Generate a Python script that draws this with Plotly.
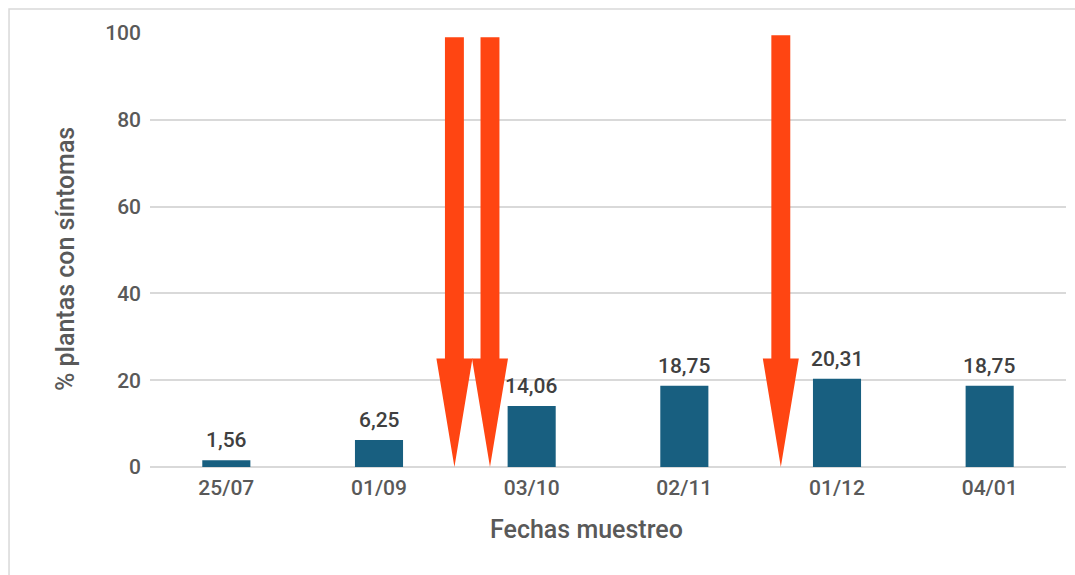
import plotly.graph_objects as go

# Sampling dates and % of plants with symptoms
fechas = ["25/07", "01/09", "03/10", "02/11", "01/12", "04/01"]
porcentaje = [1.56, 6.25, 14.06, 18.75, 20.31, 18.75]

# Treatment markers (downward arrows), positioned on the category scale
flecha_x = [1.494, 1.727, 3.632]
flecha_top = [99.0, 99.0, 99.5]

BAR_COLOR = "#185F80"
ARROW_COLOR = "#FF4512"
TEXT_COLOR = "#595959"
LABEL_COLOR = "#404040"
FONT = "Roboto"

pos = list(range(len(fechas)))

fig = go.Figure()
fig.add_trace(go.Bar(
    x=pos, y=porcentaje, width=0.315,
    marker=dict(color=BAR_COLOR, line=dict(width=0)),
    hoverinfo="skip",
))

# Value labels above each bar, with decimal comma
for xi, v in zip(pos, porcentaje):
    fig.add_annotation(
        x=xi, y=v, text=f"{v:.2f}".replace(".", ","), showarrow=False,
        xanchor="center", yanchor="bottom", yshift=6,
        font=dict(family=FONT, size=21, color=LABEL_COLOR, weight=500),
    )

# Arrow shapes: shaft half-width, head half-width and head height in axis units
shaft_hw = 0.062
head_hw = 0.118
head_h = 25.0
for xc, top in zip(flecha_x, flecha_top):
    xs = [xc - shaft_hw, xc + shaft_hw, xc + shaft_hw, xc + head_hw, xc,
          xc - head_hw, xc - shaft_hw, xc - shaft_hw]
    ys = [top, top, head_h, head_h, 0, head_h, head_h, top]
    fig.add_trace(go.Scatter(
        x=xs, y=ys, mode="lines", fill="toself", fillcolor=ARROW_COLOR,
        line=dict(width=0, color=ARROW_COLOR), hoverinfo="skip",
        showlegend=False,
    ))

# Axis titles
title_font = dict(family=FONT, size=25, color=TEXT_COLOR, weight=500)
fig.add_annotation(text="Fechas muestreo", xref="paper", yref="paper",
                   x=0.476, y=-0.1429, xanchor="center", yanchor="middle",
                   showarrow=False, font=title_font)
fig.add_annotation(text="% plantas con síntomas", xref="paper", yref="paper",
                   x=-0.0928, y=0.479, xanchor="center", yanchor="middle",
                   textangle=-90, showarrow=False, font=title_font)

# Light grey frame around the chart
fig.add_shape(type="rect", xref="paper", yref="paper",
              x0=-0.1539, y0=-0.4, x1=1.05, y1=1.0553,
              line=dict(color="#D9D9D9", width=1.5), layer="below")

fig.update_layout(
    width=1075, height=575,
    margin=dict(l=150, r=9, t=33, b=108),
    paper_bgcolor="white", plot_bgcolor="white",
    showlegend=False,
    font=dict(family=FONT, color=TEXT_COLOR, size=21),
    xaxis=dict(
        range=[-0.5, 5.5], tickmode="array", tickvals=pos, ticktext=fechas,
        showgrid=False, zeroline=False, showline=False, ticks="",
        ticklabelstandoff=6,
        tickfont=dict(family=FONT, size=21, color=TEXT_COLOR, weight=500),
    ),
    yaxis=dict(
        range=[0, 100], dtick=20, showgrid=True, gridcolor="#D9D9D9",
        gridwidth=1.5, zeroline=True, zerolinecolor="#D9D9D9",
        zerolinewidth=1.5, showline=False, ticks="", ticklabelstandoff=8,
        tickfont=dict(family=FONT, size=21, color=TEXT_COLOR, weight=500),
    ),
)

fig.write_html("out.html")
